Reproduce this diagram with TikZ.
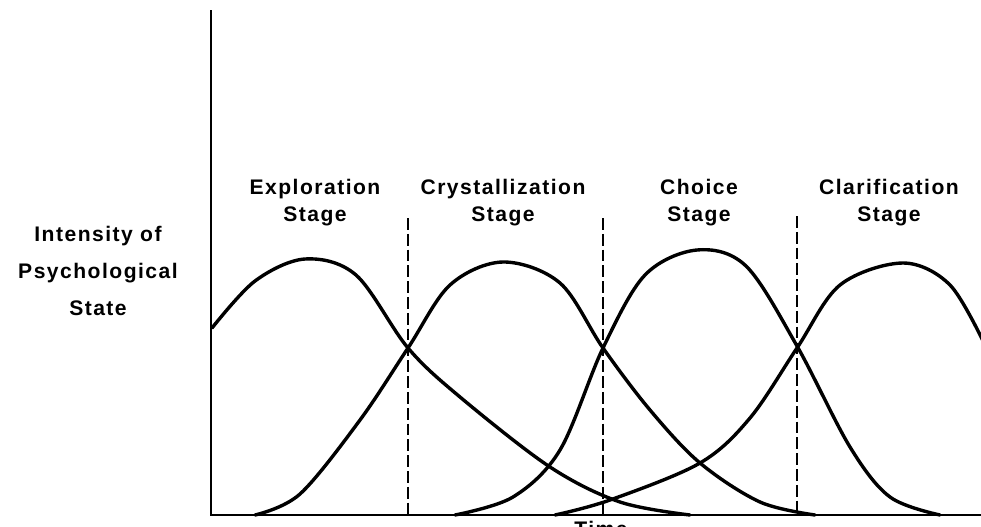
\documentclass[tikz,border=0pt]{standalone}
\usepackage{fontspec}
\newfontfamily\lblfont{Liberation Sans}[LetterSpace=7]
\usetikzlibrary{positioning}

\begin{document}
\begin{tikzpicture}[x=0.03cm,y=-0.03cm,
  every node/.style={font=\lblfont\bfseries\fontsize{18}{23}\selectfont,align=center,inner sep=0pt},
  ax/.style={line width=1.1pt},
  cv/.style={line width=2.9pt,line join=round,line cap=round},
  dv/.style={line width=1.2pt,dash pattern=on 10pt off 3.5pt}]
 \useasboundingbox (0,0) rectangle (981,526);
 \clip (0,0) rectangle (981,526);
 % axes
 \draw[ax] (211,10) -- (211,515) -- (990,515);
 % stage borders
 \draw[dv] (408,218) -- (408,515);
 \draw[dv] (603,218) -- (603,515);
 \draw[dv] (797,216) -- (797,515);
 % labels
 \node[anchor=north,font=\lblfont\bfseries\fontsize{18}{31.5}\selectfont] (lab) at (98,226) {Intensity of\\Psychological\\State};
 \node[anchor=north] (expl) at (315,179) {Exploration\\Stage};
 \node[anchor=north] (crys) at (503,179) {Crystallization\\Stage};
 \node[anchor=north] (choi) at (699,179) {Choice\\Stage};
 \node[anchor=north] (clar) at (889,179) {Clarification\\Stage};
 \node[anchor=north] (time) at (601,521) {Time};
 % curves
 \draw[cv] plot[smooth,tension=0.55] coordinates {(212,328) (255,281) (305,259) (356,275) (408,348) (460,397) (550,467) (620,502) (690,515)};
 \draw[cv] plot[smooth,tension=0.55] coordinates {(255,515) (300,494) (360,420) (408,348) (450,285) (503,262) (560,283) (603,348) (650,410) (700,463) (760,502) (815,515)};
 \draw[cv] plot[smooth,tension=0.55] coordinates {(455,515) (513,497) (560,450) (603,348) (645,275) (697,250) (746,266) (797,346) (850,447) (890,497) (940,515)};
 \draw[cv] plot[smooth,tension=0.55] coordinates {(555,515) (610,500) (700,463) (750,418) (797,348) (840,285) (903,263) (950,285) (985,345)};
\end{tikzpicture}
\end{document}
